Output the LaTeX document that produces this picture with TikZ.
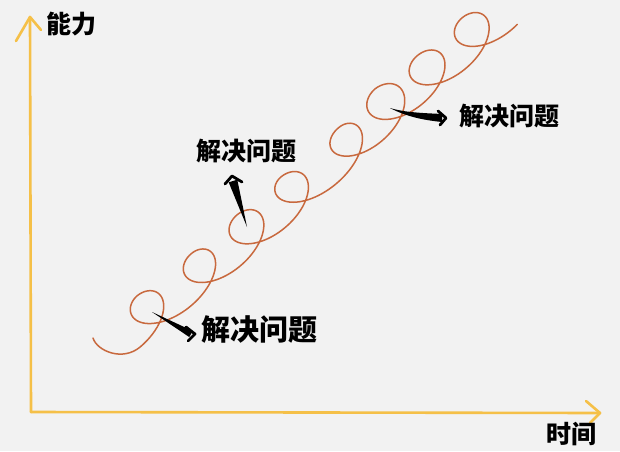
\documentclass[tikz,border=0pt]{standalone}
\usepackage{fontspec}
\newfontfamily\cjk{Noto Sans CJK SC}
\usetikzlibrary{calc}
\definecolor{bgcol}{RGB}{242,242,242}
\definecolor{axiscol}{RGB}{245,192,72}
\definecolor{curvecol}{RGB}{200,105,62}
\begin{document}
\begin{tikzpicture}[x=1pt,y=1pt,
  axis/.style={draw=axiscol, line width=2.6pt, line cap=round, line join=round},
  curve/.style={draw=curvecol, line width=1.5pt, line cap=round, line join=round},
  lbl/.style={font=\cjk\bfseries\fontsize{25}{25}\selectfont, text=black, inner sep=0pt},
  lblbig/.style={font=\cjk\bfseries\fontsize{29}{29}\selectfont, text=black, inner sep=0pt},
  ink/.style={fill=black},
  head/.style={draw=black, line width=2.8pt, line cap=round, line join=round}]
\fill[bgcol] (0,0) rectangle (620,451);
\useasboundingbox (0,0) rectangle (620,451);
% axes
\coordinate (O) at (31,39);
\coordinate (Ytip) at (30,434);
\coordinate (Xtip) at (600,38);
\coordinate (Yl) at (16,410);
\coordinate (Yr) at (41,421);
\coordinate (Xu) at (586,50);
\coordinate (Xd) at (590,28);
\draw[axis] (O) -- (Ytip);
\draw[axis] (Yl) -- (Ytip) -- (Yr);
\draw[axis] (O) -- (Xtip);
\draw[axis] (Xu) -- (Xtip) -- (Xd);
% looping curve
\coordinate (cs) at (93,113);
\draw[curve] (cs) .. controls (97,100) and (122.6,89.2) .. (140.24,104.09)
  -- plot[variable=\s, domain=0.5:1, samples=30]
     ({103.8+\s*46.4-24.45*sin(360*\s)-13.24*cos(360*\s)},
      {100.1+\s*39.3-20.67*sin(360*\s)+15.66*cos(360*\s)})
  \foreach \ax/\ay/\bx/\by in {150.2/139.4/204.2/181.4, 204.2/181.4/250.2/220.4,
      250.2/220.4/294.2/258.4, 294.2/258.4/352.2/307.9, 352.2/307.9/388.2/346.4,
      388.2/346.4/430.2/379.4, 430.2/379.4/475.2/417.4}{
  -- plot[variable=\s, domain=0:1, samples=70]
     ({\ax+\s*(\bx-\ax)-24.45*sin(360*\s)-13.24*cos(360*\s)},
      {\ay+\s*(\by-\ay)-20.67*sin(360*\s)+15.66*cos(360*\s)})}
  -- plot[variable=\s, domain=0:0.53, samples=40]
     ({475.2+\s*46.4-24.45*sin(360*\s)-13.24*cos(360*\s)},
      {417.4+\s*39.3-20.67*sin(360*\s)+15.66*cos(360*\s)});
% labels
\node[lbl] (yl) at (71,427) {能力};
\node[lbl] (xl) at (571,17) {时间};
\node[lblbig] (s1) at (259,121) {解决问题};
\node[lbl] (s2) at (246,300) {解决问题};
\node[lbl] (s3) at (509,335) {解决问题};
% arrow 1 (lower)
\coordinate (a1s) at (152,139);
\coordinate (a1e) at (191,117);
\coordinate (h1a) at (186,124);
\coordinate (h1t) at (195,117);
\coordinate (h1b) at (188,110);
\fill[ink] (a1s) -- ($(a1e)!3.5pt!90:(a1s)$) -- ($(a1e)!3.5pt!-90:(a1s)$) -- cycle;
\draw[head] (h1a) -- (h1t) -- (h1b);
% arrow 2 (middle)
\coordinate (a2s) at (247,224);
\coordinate (a2e) at (233,270);
\coordinate (h2a) at (225,267);
\coordinate (h2t) at (232,275);
\coordinate (h2b) at (242,269);
\fill[ink] (a2s) -- ($(a2e)!4.5pt!90:(a2s)$) -- ($(a2e)!4.5pt!-90:(a2s)$) -- cycle;
\draw[head] (h2a) -- (h2t) -- (h2b);
% arrow 3 (upper right)
\coordinate (a3s) at (390,343);
\coordinate (h3a) at (438,340);
\coordinate (h3t) at (446,333);
\coordinate (h3b) at (440,326);
\fill[ink] (a3s) .. controls (405,338.5) and (422,338) .. (442,337)
  -- (442,329) .. controls (422,331) and (405,335) .. (a3s) -- cycle;
\draw[head] (h3a) -- (h3t) -- (h3b);
\end{tikzpicture}
\end{document}
